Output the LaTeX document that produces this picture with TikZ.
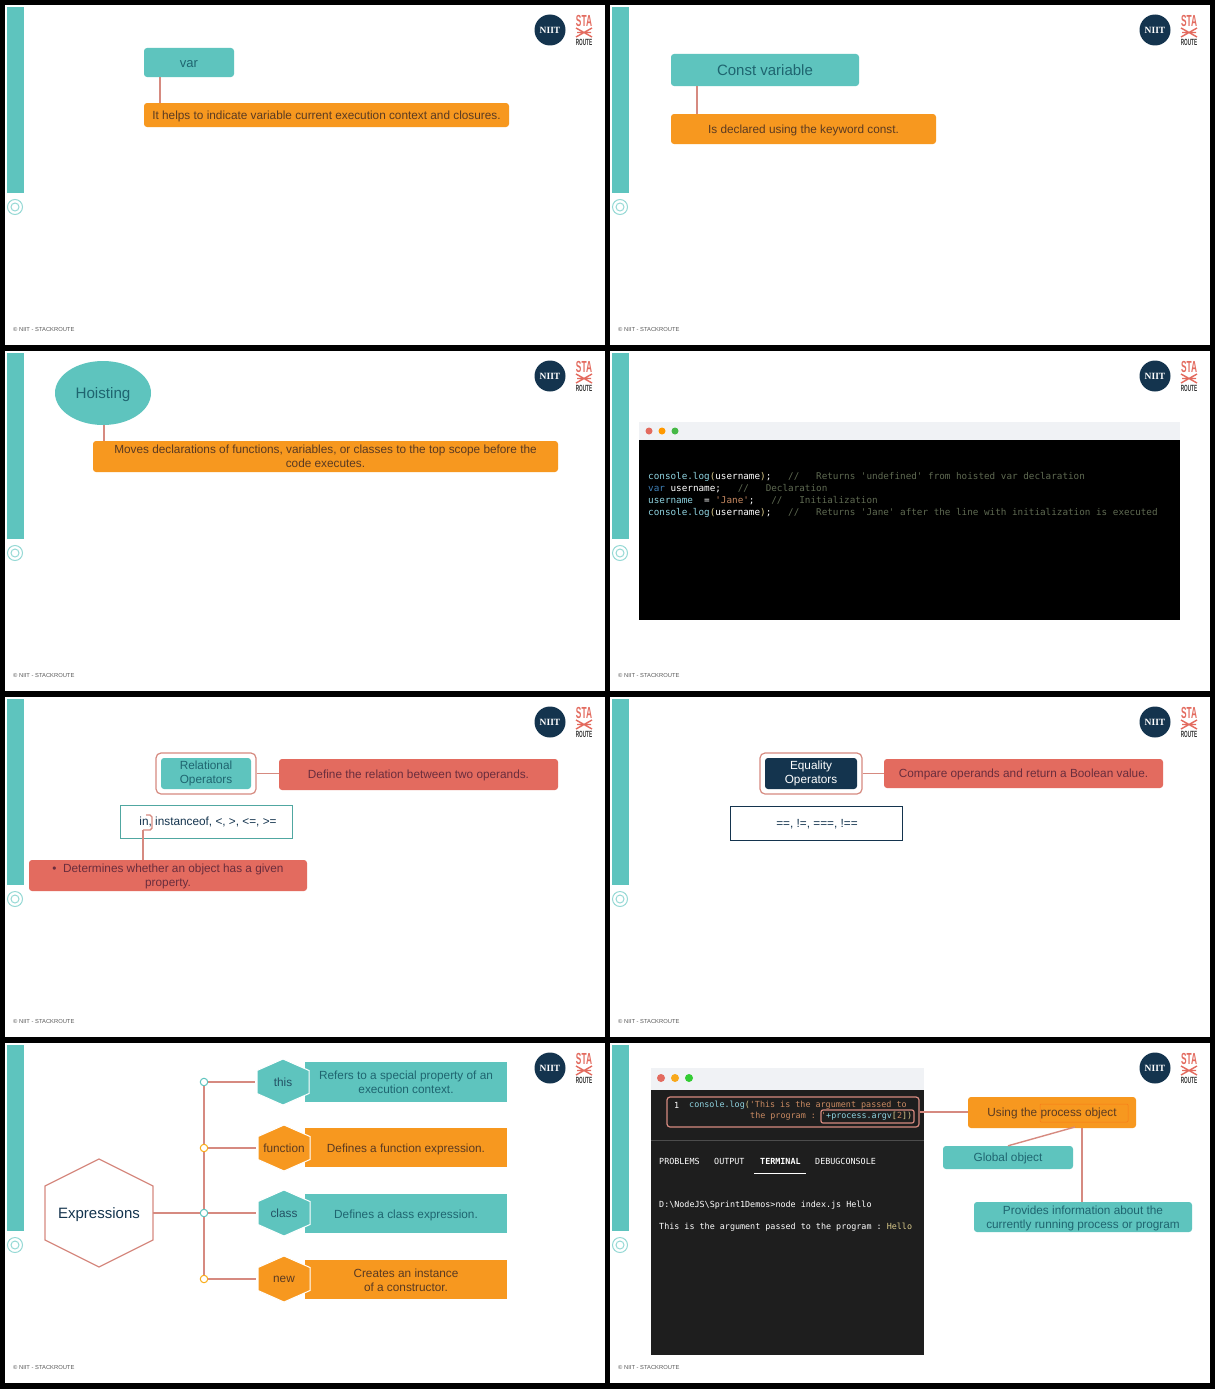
\documentclass[tikz,border=0pt]{standalone}
\usepackage{fontspec}
\usetikzlibrary{shapes.geometric}
\setmainfont{Liberation Sans}
\setmonofont{DejaVu Sans Mono}
\newfontfamily\logofont{Liberation Serif}
\definecolor{tealfill}{HTML}{5EC4BE}
\definecolor{orangefill}{HTML}{F7981F}
\definecolor{redfill}{HTML}{E36B5F}
\definecolor{navyfill}{HTML}{14344E}
\definecolor{linkred}{HTML}{D68A80}
\definecolor{tealtext}{HTML}{1F6570}
\definecolor{orangetext}{HTML}{5A3A22}
\definecolor{redtext}{HTML}{6A2D3D}
\definecolor{cmtgray}{HTML}{5F6A52}
\definecolor{codeblue}{HTML}{8FD3E0}
\definecolor{codevar}{HTML}{3F7FB5}
\definecolor{codestr}{HTML}{C98A62}
\definecolor{codeyel}{HTML}{D9C98A}
\definecolor{barlight}{HTML}{F0F2F5}
\definecolor{termback}{HTML}{1E1E1E}
\newcommand{\cmt}[1]{\textcolor{cmtgray}{#1}}
\newcommand{\clog}{\textcolor{codeblue}{console.log}\textcolor{codeyel}{(}\textcolor{white}{username}\textcolor{codeyel}{)}\textcolor{white}{;}}
% hexagon with a named node in the middle: name, x, y, half width, half height, style, text
\newcommand{\hexnode}[7]{
  \draw[#6] (#2-#4,#3-#5/2) -- (#2,#3-#5) -- (#2+#4,#3-#5/2) -- (#2+#4,#3+#5/2) -- (#2,#3+#5) -- (#2-#4,#3+#5/2) -- cycle;
  \node[hexlabel, minimum width=2*#4, minimum height=2*#5] (#1) at (#2,#3) {#7};
}
\tikzset{
  boxbase/.style={rounded corners=3pt, inner sep=0pt, align=center, text depth=0pt, font=\fontsize{11.8}{14}\selectfont},
  tealbox/.style={boxbase, fill=tealfill, text=tealtext},
  orangebox/.style={boxbase, fill=orangefill, text=orangetext},
  redbox/.style={boxbase, fill=redfill, text=redtext},
  navybox/.style={boxbase, fill=navyfill, text=white},
  ringbox/.style={rounded corners=5pt, draw=linkred, line width=1.2pt, fill=white, inner sep=0pt},
  plainbox/.style={boxbase, rounded corners=0pt, fill=white, text=navyfill, line width=1pt},
  link/.style={draw=linkred, line width=1.4pt},
  dot/.style={circle, fill=white, line width=1pt, minimum size=7.5pt, inner sep=0pt},
  hexlabel/.style={inner sep=0pt, align=center, text depth=0pt, font=\fontsize{11.8}{14}\selectfont},
  code/.style={inner sep=0pt, anchor=west, align=left, font=\ttfamily\fontsize{9.3}{12}\selectfont},
  term/.style={inner sep=0pt, anchor=west, align=left, text=white, font=\ttfamily\fontsize{8.4}{11}\selectfont},
}
\begin{document}
\begin{tikzpicture}[x=1pt, y=-1pt]
  \useasboundingbox (0,0) rectangle (1215,1389);
  \fill[black] (0,0) rectangle (1215,1389);

  % Slides
  \foreach \n/\px/\py in {a/0/0, b/605/0, c/0/346, d/605/346, e/0/692, f/605/692, g/0/1038, h/605/1038} {
    \begin{scope}[shift={(\px,\py)}]
      \fill[white] (5,5) rectangle (605,345);
      \fill[tealfill] (7,7) rectangle (24,193);
      \draw[tealfill!65, line width=1pt] (15,207) circle (7.5pt) circle (4pt);
      \node[circle, fill=navyfill, minimum size=31pt, inner sep=0pt, text=white, font=\logofont\bfseries\fontsize{9.5}{10}\selectfont] (niit-\n) at (550,30) {NIIT};
      \node[inner sep=0pt, text=redfill, font=\bfseries\fontsize{16}{17}\selectfont, xscale=0.52] (sta-\n) at (584,21) {STA};
      \draw[redfill, line width=1.4pt] (576,28) -- (592,37) (592,28) -- (576,37) (577,32.5) -- (591,32.5);
      \node[inner sep=0pt, text=black!80, font=\bfseries\fontsize{9}{10}\selectfont, xscale=0.52] (route-\n) at (584,42.5) {ROUTE};
      \node[inner sep=0pt, anchor=west, text=black!65, font=\fontsize{5.8}{6}\selectfont] (foot-\n) at (13,329.5) {© NIIT - STACKROUTE};
    \end{scope}
  }

  % var
  \node[tealbox, minimum width=90pt, minimum height=29pt, text height=9pt, font=\fontsize{13}{15}\selectfont] (var) at (189,62.5) {var};
  \node[orangebox, minimum width=365pt, minimum height=24pt] (varinfo) at (326.5,115) {It helps to indicate variable current execution context and closures.};
  \draw[link] ([xshift=16pt]var.south west) -- ([xshift=16pt]varinfo.north west);

  % Const variable
  \node[tealbox, minimum width=188pt, minimum height=32pt, font=\fontsize{15}{17}\selectfont] (const) at (765,70) {Const variable};
  \node[orangebox, minimum width=265pt, minimum height=30pt] (constinfo) at (803.5,129) {Is declared using the keyword const.};
  \draw[link] ([xshift=26pt]const.south west) -- ([xshift=26pt]constinfo.north west);

  % Hoisting
  \node[ellipse, fill=tealfill, text=tealtext, minimum width=96pt, minimum height=64pt, inner sep=0pt, text depth=0pt, font=\fontsize{15.2}{18}\selectfont] (hoist) at (103,393) {Hoisting};
  \node[orangebox, minimum width=465pt, minimum height=31pt] (hoistinfo) at (325.5,456.5) {Moves declarations of functions, variables, or classes to the top scope before the\\code executes.};
  \draw[link] ([xshift=1pt]hoist.south) -- ([xshift=1pt]hoist.south |- hoistinfo.north);

  % Hoisting code
  \fill[barlight] (639,422) rectangle (1180,440);
  \fill[black] (639,440) rectangle (1180,620);
  \fill[redfill] (649,431) circle (3.5pt);
  \fill[orange!80!yellow] (662,431) circle (3.5pt);
  \fill[green!45!gray] (675,431) circle (3.5pt);
  \node[code] (hoistcode) at (648,495) {\clog~~~\cmt{//~~~Returns 'undefined' from hoisted var declaration}\\
    \textcolor{codevar}{var}\textcolor{white}{~username;}~~~\cmt{//~~~Declaration}\\
    \textcolor{codeblue}{username}\textcolor{white}{~~=~}\textcolor{codestr}{'Jane'}\textcolor{white}{;}~~~\cmt{//~~~Initialization}\\
    \clog~~~\cmt{//~~~Returns 'Jane' after the line with initialization is executed}};

  % Relational Operators
  \node[ringbox, minimum width=100pt, minimum height=41pt] (relring) at (206,773.5) {};
  \node[tealbox, minimum width=90pt, minimum height=31pt, text depth=2pt] (rel) at (206,773.5) {Relational\\Operators};
  \node[redbox, minimum width=279pt, minimum height=31pt] (relinfo) at (418.5,774.5) {Define the relation between two operands.};
  \draw[link] (relring.east) -- (relring.east -| relinfo.west);
  \node[plainbox, draw=tealfill!85!black, minimum width=172pt, minimum height=33pt] (relops) at (206,821.5) {\hspace*{4pt}in, instanceof, <, >, <=, >=};
  \coordinate (inmark) at (143,830);
  \node[redbox, minimum width=278pt, minimum height=31pt] (ininfo) at (168,875.5) {•~~Determines whether an object has a given\\property.};
  \draw[link] (146,815) -- (150,815) -- (152,817) -- (152,828) -- (150,830) -- (inmark);
  \draw[link] (inmark) -- (inmark |- ininfo.north);

  % Equality Operators
  \node[ringbox, minimum width=102pt, minimum height=41pt] (eqring) at (811,773.5) {};
  \node[navybox, minimum width=92pt, minimum height=31pt, text depth=2pt] (eq) at (811,773.5) {Equality\\Operators};
  \node[redbox, minimum width=279pt, minimum height=29pt] (eqinfo) at (1023.5,773.5) {Compare operands and return a Boolean value.};
  \draw[link] (eqring.east) -- (eqring.east -| eqinfo.west);
  \node[plainbox, draw=navyfill, minimum width=172pt, minimum height=34pt] (eqops) at (816,823) {\hspace*{2pt}==, !=, ===, !==};

  % Expressions
  \fill[tealfill] (305,1062) rectangle (507,1102);
  \fill[orangefill] (305,1128) rectangle (507,1167);
  \fill[tealfill] (305,1194) rectangle (507,1233);
  \fill[orangefill] (305,1260) rectangle (507,1299);
  \node[hexlabel, text=tealtext] (thisinfo) at (406,1082) {Refers to a special property of an\\execution context.};
  \node[hexlabel, text=orangetext] (funcinfo) at (406,1148) {Defines a function expression.};
  \node[hexlabel, text=tealtext] (classinfo) at (406,1214) {Defines a class expression.};
  \node[hexlabel, text=orangetext] (newinfo) at (406,1280) {Creates an instance\\of a constructor.};
  \hexnode{expr}{99}{1213}{54}{54}{draw=linkred, fill=white, line width=1.2pt}{\textcolor{navyfill}{\fontsize{15}{18}\selectfont Expressions}}
  \hexnode{this}{283}{1082}{26}{23}{draw=white, fill=tealfill, line width=1pt}{\textcolor{navyfill!80!tealfill}{this}}
  \hexnode{func}{284}{1148}{26}{23}{draw=white, fill=orangefill, line width=1pt}{\textcolor{orangetext}{function}}
  \hexnode{class}{284}{1213}{26}{23}{draw=white, fill=tealfill, line width=1pt}{\textcolor{navyfill!80!tealfill}{class}}
  \hexnode{new}{284}{1279}{26}{23}{draw=white, fill=orangefill, line width=1pt}{\textcolor{orangetext}{new}}
  \node[dot, draw=tealfill] (dthis) at (204,1082) {};
  \node[dot, draw=orangefill!80!yellow] (dfunc) at (204,1148) {};
  \node[dot, draw=tealfill] (dclass) at (204,1213) {};
  \node[dot, draw=orangefill!80!yellow] (dnew) at (204,1279) {};
  \draw[link] (dthis) -- (dfunc);
  \draw[link] (dfunc) -- (dclass);
  \draw[link] (dclass) -- (dnew);
  \draw[link] (expr.east) -- (dclass);
  \draw[link] (dthis) -- ([xshift=-2pt]this.west);
  \draw[link] (dfunc) -- ([xshift=-2pt]func.west);
  \draw[link] (dclass) -- ([xshift=-2pt]class.west);
  \draw[link] (dnew) -- ([xshift=-2pt]new.west);

  % Process object terminal
  \fill[barlight] (651,1068) rectangle (924,1090);
  \fill[termback] (651,1090) rectangle (924,1355);
  \fill[redfill] (661,1078) circle (4pt);
  \fill[orangefill!85!yellow] (675,1078) circle (4pt);
  \fill[green!60!gray] (689,1078) circle (4pt);
  \draw[black!70!white, line width=0.6pt] (651,1140) -- (924,1140);
  \node[ringbox, fill=none, rounded corners=3pt, minimum width=252pt, minimum height=30pt] (argbox) at (793,1112) {};
  \node[ringbox, fill=none, rounded corners=2pt, minimum width=93pt, minimum height=13pt] (argv) at (867.5,1116.5) {};
  \node[term] (lineno) at (674,1105.5) {1};
  \node[term] (line1) at (689,1105.5) {\textcolor{codeblue}{console.log}\textcolor{codeyel}{(}\textcolor{codestr}{'This is the argument passed to}};
  \node[term] (line2) at (750,1116) {\textcolor{codestr}{the program : '}};
  \node[term] (line3) at (826,1116) {\textcolor{codeblue}{+process.argv}\textcolor{codeyel}{[}\textcolor{codestr}{2}\textcolor{codeyel}{])}};
  \node[term] (tab1) at (659,1161) {PROBLEMS};
  \node[term] (tab2) at (714,1161) {OUTPUT};
  \node[term, font=\ttfamily\bfseries\fontsize{8.4}{11}\selectfont] (tab3) at (760,1161) {TERMINAL};
  \node[term] (tab4) at (815,1161) {DEBUGCONSOLE};
  \draw[white, line width=0.8pt] (754,1173) -- (806,1173);
  \node[term] (cmd) at (659,1205) {D:\textbackslash NodeJS\textbackslash Sprint1Demos>node index.js Hello};
  \node[term] (out) at (659,1227) {This is the argument passed to the program : \textcolor{codeyel}{Hello}};

  % Process object labels
  \node[orangebox, minimum width=168pt, minimum height=31pt] (proc) at (1052,1112.5) {Using the process object};
  \draw[orangefill!80!red, line width=0.5pt, rounded corners=1pt] (1040,1104) rectangle (1128,1122);
  \node[tealbox, minimum width=130pt, minimum height=23pt] (glob) at (1008,1157.5) {Global object};
  \node[tealbox, minimum width=218pt, minimum height=30pt] (provides) at (1083,1217) {Provides information about the\\currently running process or program};
  \coordinate (procbot) at (1082,1128);
  \coordinate (procglob) at (1075,1127);
  \draw[link] (argbox.east) -- (argbox.east -| proc.west);
  \draw[link] (glob.north) -- (procglob);
  \draw[link] (procbot) -- (procbot |- provides.north);
\end{tikzpicture}
\end{document}
